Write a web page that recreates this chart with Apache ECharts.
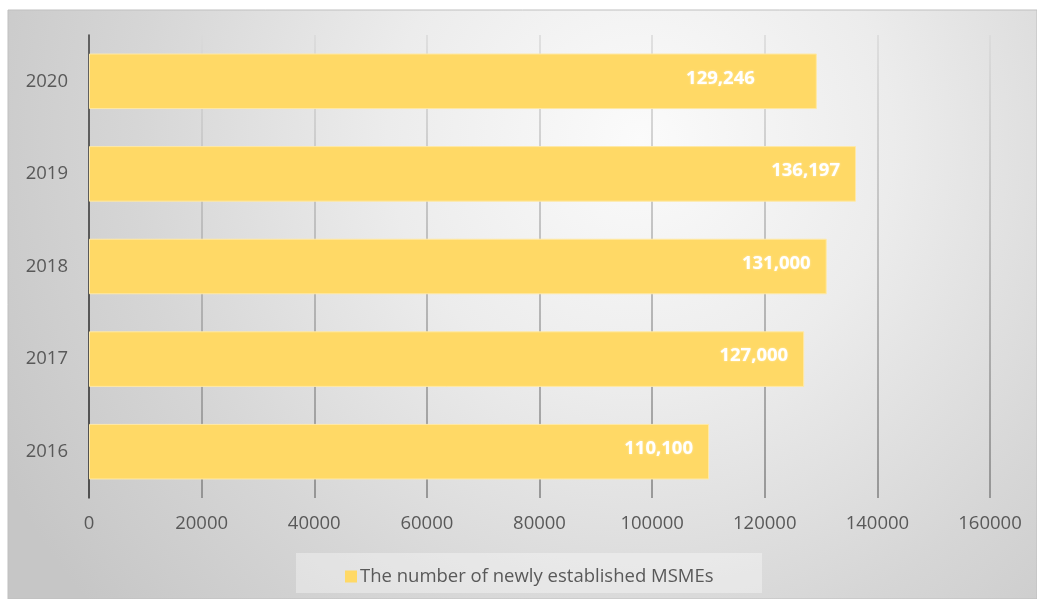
<!DOCTYPE html>
<html>
<head>
<meta charset="utf-8">
<script src="https://cdn.jsdelivr.net/npm/echarts@6/dist/echarts.min.js"></script>
<style>
  html, body { margin: 0; padding: 0; background: #ffffff; }
  #chart { width: 1037px; height: 599px; }
</style>
</head>
<body>
<div id="chart"></div>
<script>
// Newly established MSMEs per year
const years = ['2016', '2017', '2018', '2019', '2020'];
const newMSMEs = [110100, 127000, 131000, 136197, 129246];
const seriesName = 'The number of newly established MSMEs';
const xTicks = [0, 20000, 40000, 60000, 80000, 100000, 120000, 140000, 160000];

const FONT = '"Open Sans", sans-serif';
const TEXT_GREY = '#595959';
const BAR_GOLD = '#FFD966';

// the 2020 value label sits further in from the bar end
const labelNudge = { '2020': [-46, -3] };

const chart = echarts.init(document.getElementById('chart'), null, { renderer: 'canvas' });

const barData = newMSMEs.map((v, i) => {
  const item = { value: v };
  const nudge = labelNudge[years[i]];
  item.label = { offset: nudge ? nudge : [0, -3] };
  return item;
});

chart.setOption({
  animation: false,
  textStyle: { fontFamily: FONT },
  graphic: [
    {
      type: 'rect',
      z: -10,
      silent: true,
      shape: { x: 8, y: 10, width: 1029, height: 589 },
      style: {
        fill: new echarts.graphic.RadialGradient(640, 140, 720, [
          { offset: 0, color: '#fbfbfb' },
          { offset: 0.35, color: '#ececec' },
          { offset: 0.7, color: '#d6d6d6' },
          { offset: 1, color: '#c6c6c6' }
        ], true),
        stroke: '#bfbfbf',
        lineWidth: 1
      }
    },
    {
      type: 'rect',
      z: -5,
      silent: true,
      shape: { x: 296, y: 553, width: 466, height: 40 },
      style: { fill: 'rgba(255,255,255,0.35)' }
    }
  ],
  grid: { left: 89, top: 35, width: 901, height: 463, containLabel: false },
  xAxis: {
    type: 'value',
    min: 0,
    max: xTicks[xTicks.length - 1],
    interval: xTicks[1] - xTicks[0],
    axisLine: { show: false },
    axisTick: { show: false },
    axisLabel: {
      color: TEXT_GREY, fontSize: 18.5, margin: 16, fontFamily: FONT,
      formatter: v => String(v)
    },
    splitLine: {
      show: true,
      lineStyle: {
        width: 1.5,
        color: new echarts.graphic.LinearGradient(0, 0, 0, 1, [
          { offset: 0, color: '#dadada' },
          { offset: 0.5, color: '#ababab' },
          { offset: 1, color: '#7f7f7f' }
        ])
      }
    }
  },
  yAxis: {
    type: 'category',
    data: years,
    axisLine: { show: true, lineStyle: { color: '#3a3a3a', width: 1.5 } },
    axisTick: { show: false },
    axisLabel: { color: TEXT_GREY, fontSize: 18.5, margin: 21, fontFamily: FONT },
    splitLine: { show: false }
  },
  legend: {
    data: [seriesName],
    left: 340,
    top: 562,
    icon: 'rect',
    itemWidth: 12,
    itemHeight: 12,
    itemGap: 6,
    itemStyle: { borderWidth: 0 },
    textStyle: { color: TEXT_GREY, fontSize: 18.5, fontFamily: FONT, padding: [0, 0, 0, -2] }
  },
  series: [
    {
      name: seriesName,
      type: 'bar',
      data: barData,
      barCategoryGap: '40%',
      itemStyle: { color: BAR_GOLD, borderColor: '#FFE9A6', borderWidth: 1 },
      label: {
        show: true,
        position: 'insideRight',
        distance: 16,
        color: '#ffffff',
        fontWeight: 'bold',
        fontSize: 18.5,
        fontFamily: FONT,
        textShadowColor: 'rgba(255,255,255,0.6)',
        textShadowBlur: 2,
        formatter: p => p.value.toLocaleString('en-US')
      }
    }
  ]
});
</script>
</body>
</html>
